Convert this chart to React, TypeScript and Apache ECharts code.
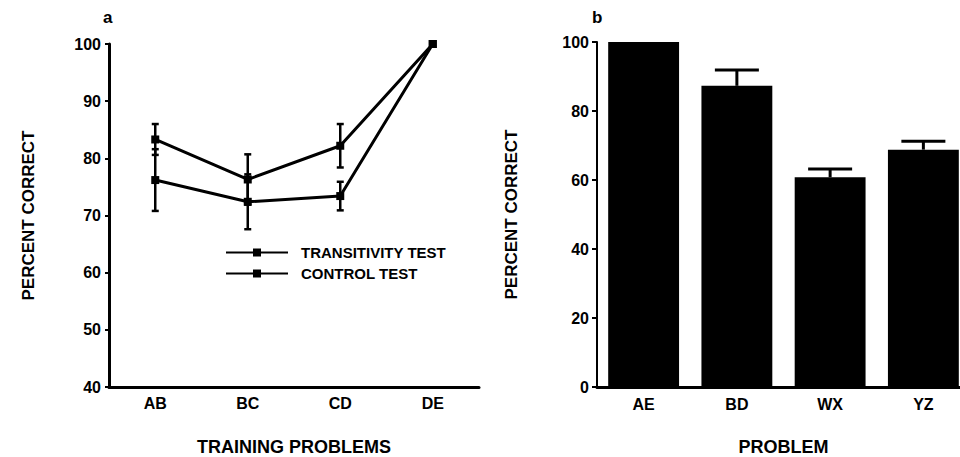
import React, { useEffect, useRef } from "react";
import * as echarts from "echarts";

const trainingProblems = ["AB", "BC", "CD", "DE"];
const transitivityTest = [83.3, 76.3, 82.2, 100];
const transitivityErr = [2.7, 4.4, 3.8, 0];
const controlTest = [76.2, 72.4, 73.4, 100];
const controlErr = [5.4, 4.8, 2.5, 0];

const problems = ["AE", "BD", "WX", "YZ"];
const problemCorrect = [100, 87.3, 60.8, 68.8];
const problemErr = [0, 4.6, 2.4, 2.4];

const yTicksA = { min: 40, max: 100, interval: 10 };
const yTicksB = { min: 0, max: 100, interval: 20 };

const FONT = "'Liberation Sans', Arial, Helvetica, sans-serif";

function errRender(capHalf: number, lineW: number, lowerCap: boolean) {
  return (params: any, api: any) => {
    const x = api.value(0);
    const lo = api.value(1);
    const hi = api.value(2);
    if (hi - lo <= 0) return null;
    const top = api.coord([x, hi]);
    const bot = api.coord([x, lo]);
    const style = { stroke: "#000", lineWidth: lineW, fill: "none" };
    const children: any[] = [
      { type: "line", shape: { x1: top[0], y1: top[1], x2: bot[0], y2: bot[1] }, style },
      { type: "line", shape: { x1: top[0] - capHalf, y1: top[1], x2: top[0] + capHalf, y2: top[1] }, style },
    ];
    if (lowerCap) {
      children.push({ type: "line", shape: { x1: bot[0] - capHalf, y1: bot[1], x2: bot[0] + capHalf, y2: bot[1] }, style });
    }
    return { type: "group", children };
  };
}

export default function App() {
  const ref = useRef<HTMLDivElement>(null);
  useEffect(() => {
    if (!ref.current) return;
    const chart = echarts.init(ref.current, null, { renderer: "svg" });
    const axisLabel = { color: "#000", fontSize: 16, fontWeight: "bold", fontFamily: FONT };
    const nameStyle = { color: "#000", fontSize: 17, fontWeight: "bold", fontFamily: FONT };
    const lineSeries = (name: string, vals: number[]) => ({
      name,
      type: "line",
      xAxisIndex: 0,
      yAxisIndex: 0,
      data: vals,
      symbol: "rect",
      symbolSize: 8,
      lineStyle: { color: "#000", width: 3 },
      itemStyle: { color: "#000" },
      z: 3,
    });
    const errSeriesA = (vals: number[], errs: number[]) => ({
      type: "custom",
      xAxisIndex: 0,
      yAxisIndex: 0,
      renderItem: errRender(3.5, 2.5, true),
      data: vals.map((v, i) => [i, v - errs[i], v + errs[i]]),
      z: 2,
      silent: true,
    });
    chart.setOption({
      animation: false,
      title: [
        { text: "a", left: 98, top: 4, textStyle: { fontSize: 17, fontWeight: "bold", fontFamily: FONT, color: "#000" } },
        { text: "b", left: 587, top: 4, textStyle: { fontSize: 17, fontWeight: "bold", fontFamily: FONT, color: "#000" } },
      ],
      legend: {
        data: ["TRANSITIVITY TEST", "CONTROL TEST"],
        orient: "vertical",
        left: 220,
        top: 240,
        itemWidth: 62,
        itemHeight: 10,
        itemGap: 6,
        textStyle: { color: "#000", fontSize: 15, fontWeight: "bold", fontFamily: FONT, padding: [0, 0, 0, 8] },
      },
      grid: [
        { left: 109, top: 44, width: 370, height: 343, outerBoundsMode: "none", containLabel: false },
        { left: 597, top: 42, width: 373, height: 345, outerBoundsMode: "none", containLabel: false },
      ],
      xAxis: [
        {
          type: "category",
          gridIndex: 0,
          data: trainingProblems,
          axisLine: { lineStyle: { color: "#000", width: 3 } },
          axisTick: { alignWithLabel: true, length: 4, lineStyle: { color: "#000", width: 2 } },
          axisLabel: { ...axisLabel, margin: 8 },
          name: "TRAINING PROBLEMS",
          nameLocation: "middle",
          nameGap: 51,
          nameTextStyle: { ...nameStyle, fontSize: 18 },
        },
        {
          type: "category",
          gridIndex: 1,
          data: problems,
          axisLine: { lineStyle: { color: "#000", width: 3 } },
          axisTick: { show: false },
          axisLabel: { ...axisLabel, margin: 9 },
          name: "PROBLEM",
          nameLocation: "middle",
          nameGap: 51,
          nameTextStyle: { ...nameStyle, fontSize: 18 },
        },
      ],
      yAxis: [
        {
          type: "value",
          gridIndex: 0,
          ...yTicksA,
          axisLine: { show: true, lineStyle: { color: "#000", width: 3 } },
          axisTick: { show: true, length: 4, lineStyle: { color: "#000", width: 2 } },
          splitLine: { show: false },
          axisLabel: { ...axisLabel, margin: 8 },
          name: "PERCENT CORRECT",
          nameLocation: "middle",
          nameRotate: 90,
          nameGap: 72,
          nameTextStyle: nameStyle,
        },
        {
          type: "value",
          gridIndex: 1,
          ...yTicksB,
          axisLine: { show: true, lineStyle: { color: "#000", width: 2 } },
          axisTick: { show: true, length: 5, lineStyle: { color: "#000", width: 2 } },
          splitLine: { show: false },
          axisLabel: { ...axisLabel, margin: 8 },
          name: "PERCENT CORRECT",
          nameLocation: "middle",
          nameRotate: 90,
          nameGap: 77,
          nameTextStyle: nameStyle,
        },
      ],
      series: [
        lineSeries("TRANSITIVITY TEST", transitivityTest),
        lineSeries("CONTROL TEST", controlTest),
        errSeriesA(transitivityTest, transitivityErr),
        errSeriesA(controlTest, controlErr),
        {
          type: "bar",
          xAxisIndex: 1,
          yAxisIndex: 1,
          data: problemCorrect,
          barCategoryGap: "24%",
          itemStyle: { color: "#000" },
        },
        {
          type: "custom",
          xAxisIndex: 1,
          yAxisIndex: 1,
          renderItem: errRender(22, 3, false),
          data: problemCorrect.map((v, i) => [i, v, v + problemErr[i]]),
          silent: true,
          z: 3,
        },
      ],
    });
    return () => chart.dispose();
  }, []);
  return (
    <div
      ref={ref}
      style={{ position: "fixed", left: 0, top: 0, width: 960, height: 457, background: "#fff" }}
    />
  );
}
